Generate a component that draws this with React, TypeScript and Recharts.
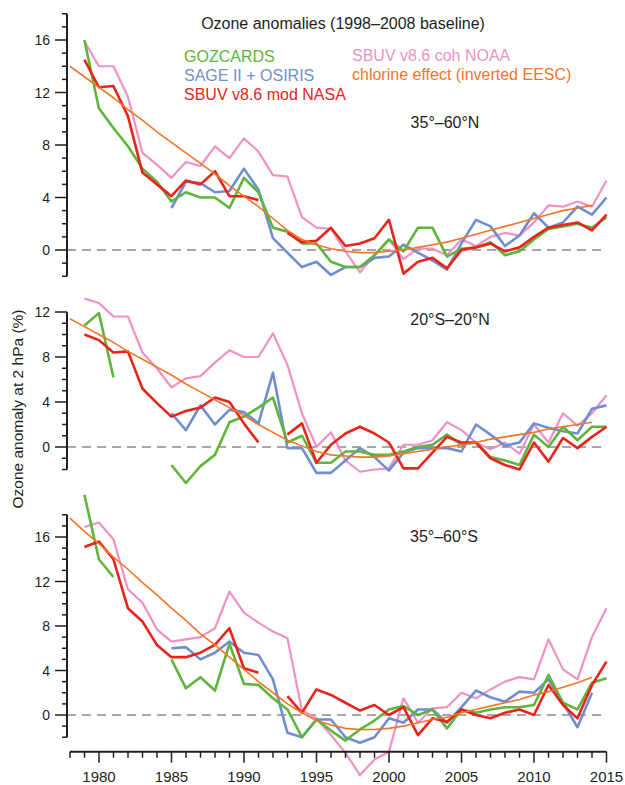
import { LineChart, Line, XAxis, YAxis, ReferenceLine } from "recharts"

const N = null

// one entry per year, 1978..2015
const years = [
  1978, 1979, 1980, 1981, 1982, 1983, 1984, 1985, 1986, 1987,
  1988, 1989, 1990, 1991, 1992, 1993, 1994, 1995, 1996, 1997,
  1998, 1999, 2000, 2001, 2002, 2003, 2004, 2005, 2006, 2007,
  2008, 2009, 2010, 2011, 2012, 2013, 2014, 2015,
]

// 35°–60°N
const gozNorth = [
  N, 16.0, 10.8, 9.3, 7.9, 6.2, 5.2, 3.7, 4.4, 4.0,
  4.0, 3.2, 5.5, 4.4, 1.7, 1.4, 0.5, 0.5, -0.9, -1.3,
  -1.3, -0.4, 0.8, -0.1, 1.7, 1.7, -0.5, 0.1, 0.2, 0.6,
  -0.4, -0.1, 0.8, 1.6, 1.8, 2.0, 1.7, 2.5,
]
const sageNorth = [
  N, N, N, N, N, N, N, 3.2, 5.2, 5.1,
  4.4, 4.5, 6.2, 4.6, 0.9, -0.2, -1.3, -0.9, -1.9, -1.3,
  -1.3, -0.6, -0.5, 0.4, -0.2, -0.8, -1.5, 0.5, 2.3, 1.8,
  0.3, 1.1, 2.8, 1.7, 2.1, 3.3, 2.7, 4.0,
]
const nasaNorth = [
  N, 14.5, 12.4, 12.5, 10.2, 5.9, 5.0, 4.1, 5.3, 5.0,
  6.0, 4.1, 4.1, 3.8, N, 1.3, 0.6, 0.7, 1.7, 0.3,
  0.5, 0.9, 2.3, -1.8, -0.9, -0.6, -1.4, 0.0, 0.2, 0.5,
  -0.1, 0.2, 1.0, 1.7, 1.9, 2.1, 1.5, 2.7,
]
const noaaNorth = [
  N, 15.9, 14.0, 14.0, 11.7, 7.4, 6.5, 5.5, 6.7, 6.4,
  7.9, 7.0, 8.5, 7.5, 5.7, 5.6, 2.5, 1.7, 1.6, -0.1,
  -1.7, -0.4, 0.8, -0.7, 0.1, 0.1, -0.4, 0.8, 0.3, 1.0,
  1.3, 1.1, 2.1, 3.4, 3.3, 3.7, 3.3, 5.3,
]
const eescNorth = [
  14.0, 13.2, 12.4, 11.6, 10.7, 9.9, 9.0, 8.2, 7.4, 6.6,
  5.8, 4.9, 4.1, 3.3, 2.4, 1.5, 0.8, 0.4, 0.1, -0.1,
  -0.2, -0.2, -0.1, 0.0, 0.2, 0.4, 0.6, 0.9, 1.2, 1.5,
  1.8, 2.1, 2.4, 2.7, 3.0, 3.2, 3.4, N,
]

// 20°S–20°N
const gozTropics = [
  N, 10.8, 11.9, 6.2, N, N, N, -1.6, -3.2, -1.7,
  -0.7, 2.2, 2.7, 3.5, 4.4, 0.4, 1.0, -1.4, -1.4, -0.4,
  -0.4, -0.7, -0.7, -0.4, 0.0, 0.2, 1.1, 0.2, 0.4, -0.9,
  -1.2, -1.6, 1.1, 0.0, 1.8, 0.6, 1.8, 1.8,
]
const sageTropics = [
  N, N, N, N, N, N, N, 3.0, 1.5, 3.7,
  2.0, 3.3, 3.1, 2.1, 6.6, -0.1, -0.1, -2.3, -2.3, -1.2,
  -0.1, -0.9, -2.1, -0.5, -0.1, -0.1, -0.1, -0.4, 2.0, 1.1,
  0.1, 0.4, 2.1, 1.7, 1.4, 1.2, 3.4, 3.7,
]
const nasaTropics = [
  N, 10.0, 9.5, 8.4, 8.5, 5.2, 3.9, 2.7, 3.2, 3.5,
  4.4, 4.0, 2.1, 0.4, N, 1.1, 2.1, -1.4, 0.2, 1.2,
  1.8, 1.2, 0.4, -1.9, -1.9, -0.5, 0.9, 0.4, 0.4, -1.0,
  -1.6, -2.0, 0.4, -1.3, 0.8, -0.1, 0.9, 1.8,
]
const noaaTropics = [
  N, 13.2, 12.8, 11.6, 11.6, 8.4, 7.0, 5.3, 6.1, 6.3,
  7.5, 8.6, 8.0, 8.0, 10.1, 7.3, 3.0, 0.0, 1.3, -1.2,
  -2.2, -2.0, -1.9, 0.2, 0.2, 0.6, 2.2, 1.5, 0.4, -0.2,
  0.4, -0.6, 2.0, 0.4, 3.0, 1.9, 3.0, 4.6,
]
const eescTropics = [
  11.4, 10.7, 10.0, 9.3, 8.5, 7.8, 7.1, 6.4, 5.6, 4.9,
  4.2, 3.5, 2.8, 2.0, 1.3, 0.6, 0.1, -0.4, -0.7, -0.8,
  -0.9, -0.9, -0.8, -0.6, -0.4, -0.2, 0.0, 0.2, 0.4, 0.7,
  0.9, 1.1, 1.3, 1.6, 1.8, 2.0, 2.2, N,
]

// 35°–60°S
const gozSouth = [
  N, 19.8, 14.0, 12.4, N, N, N, 5.0, 2.4, 3.4,
  2.2, 6.4, 2.8, 2.7, 1.5, 0.5, -2.0, -0.4, -1.4, -2.3,
  -1.3, -0.5, 0.5, 0.8, 0.0, 0.5, -1.2, 0.5, 0.2, 0.5,
  0.7, 0.7, 0.9, 3.6, 1.1, 0.5, 2.9, 3.3,
]
const sageSouth = [
  N, N, N, N, N, N, N, 6.0, 6.1, 5.0,
  5.6, 6.6, 5.6, 5.4, 3.2, -1.6, -2.0, -0.4, -0.4, -2.0,
  -2.5, -2.0, -0.3, -0.7, 0.5, 0.5, -0.7, 0.7, 2.2, 1.6,
  1.2, 2.1, 2.0, 3.2, 1.1, -1.1, 2.0, N,
]
const nasaSouth = [
  N, 15.1, 15.6, 14.0, 9.6, 8.4, 6.3, 5.2, 5.2, 5.6,
  6.3, 7.8, 4.2, 3.8, N, 1.7, 0.2, 2.3, 1.8, 1.1,
  0.4, 0.9, 0.0, 0.7, -1.8, -0.3, -0.6, 0.5, 0.0, -0.3,
  0.2, 0.5, 0.0, 2.7, 0.9, -0.3, 2.7, 4.8,
]
const noaaSouth = [
  N, 16.9, 17.3, 15.8, 11.3, 10.1, 7.7, 6.6, 6.8, 7.0,
  7.8, 11.1, 9.2, 8.3, 7.5, 6.9, 0.4, -0.3, -1.8, -3.4,
  -5.4, -4.0, -3.3, 1.5, -0.7, 0.6, 0.7, 2.0, 1.5, 2.3,
  3.0, 3.4, 3.2, 6.8, 4.1, 3.2, 7.0, 9.6,
]
const eescSouth = [
  17.7, 16.5, 15.4, 14.2, 13.1, 11.9, 10.8, 9.6, 8.5, 7.3,
  6.3, 5.2, 4.1, 3.0, 2.0, 1.0, 0.2, -0.5, -0.9, -1.2,
  -1.3, -1.3, -1.2, -1.0, -0.7, -0.4, -0.2, 0.2, 0.5, 0.8,
  1.1, 1.4, 1.8, 2.1, 2.5, 2.9, 3.4, N,
]

const ticksWide = [-2, -1, 0, 1, 2, 3, 4, 5, 6, 7, 8, 9, 10, 11, 12, 13, 14, 15, 16, 17, 18]
const ticksNarrow = [-2, -1, 0, 1, 2, 3, 4, 5, 6, 7, 8, 9, 10, 11, 12]

const FONT = '"Liberation Sans", Arial, Helvetica, sans-serif'
const INK = "#231f20"
const C = {
  noaa: "#ee91c4",
  sage: "#6f8ed2",
  goz: "#5db53b",
  nasa: "#e8241c",
  eesc: "#f37528",
}
const W = 625
const H = 785
const X_START = 1977.8

const build = (goz, sage, nasa, noaa, eesc) =>
  years.map((year, i) => ({ year, goz: goz[i], sage: sage[i], nasa: nasa[i], noaa: noaa[i], eesc: eesc[i] }))

const YTick = (props: any) => {
  const { x, y, payload } = props
  const v = payload.value
  const major = v % 4 === 0
  return (
    <g>
      <line x1={x - (major ? 12 : 5)} x2={x} y1={y} y2={y} stroke={INK} strokeWidth={1.5} />
      {major && (
        <text x={x - 17} y={y} dy="0.36em" textAnchor="end" fontSize={14} fill={INK} fontFamily={FONT}>
          {v}
        </text>
      )}
    </g>
  )
}

const XTick = (props: any) => {
  const { x, y, payload } = props
  const v = payload.value
  const major = v % 5 === 0
  return (
    <g>
      <line x1={x} x2={x} y1={y} y2={y + (major ? 11 : 6)} stroke={INK} strokeWidth={1.5} />
      {major && (
        <text x={x} y={y + 30} textAnchor="middle" fontSize={15} fill={INK} fontFamily={FONT}>
          {v}
        </text>
      )}
    </g>
  )
}

const Panel = ({ data, domain, ticks, axisTop, top, bottom }) => (
  <div style={{ position: "absolute", left: 0, top: 0 }}>
    <LineChart width={W} height={H} data={data} margin={{ top, right: 18.5, bottom, left: 0 }}>
      <XAxis dataKey="year" type="number" domain={[X_START, 2015]} hide />
      <YAxis
        type="number"
        domain={domain}
        ticks={ticks}
        interval={0}
        width={67}
        axisLine={false}
        tickLine={false}
        tickSize={0}
        tickMargin={0}
        tick={<YTick />}
      />
      <ReferenceLine y={0} stroke="#928787" strokeWidth={1.3} strokeDasharray="9 6" />
      <ReferenceLine segment={[{ x: X_START, y: -2 }, { x: X_START, y: axisTop }]} stroke={INK} strokeWidth={2} />
      <Line dataKey="noaa" stroke={C.noaa} strokeWidth={2.2} dot={false} strokeLinejoin="round" isAnimationActive={false} />
      <Line dataKey="sage" stroke={C.sage} strokeWidth={2.6} dot={false} strokeLinejoin="round" isAnimationActive={false} />
      <Line dataKey="goz" stroke={C.goz} strokeWidth={2.6} dot={false} strokeLinejoin="round" isAnimationActive={false} />
      <Line dataKey="nasa" stroke={C.nasa} strokeWidth={2.6} dot={false} strokeLinejoin="round" isAnimationActive={false} />
      <Line dataKey="eesc" stroke={C.eesc} strokeWidth={1.6} dot={false} isAnimationActive={false} />
    </LineChart>
  </div>
)

const txt = { fontFamily: FONT, fontSize: 16 }

export default function App() {
  const north = build(gozNorth, sageNorth, nasaNorth, noaaNorth, eescNorth)
  const tropics = build(gozTropics, sageTropics, nasaTropics, noaaTropics, eescTropics)
  const south = build(gozSouth, sageSouth, nasaSouth, noaaSouth, eescSouth)
  const axisData = years.map((year) => ({ year }))

  return (
    <div style={{ position: "absolute", left: 0, top: 0, width: W, height: H, background: "#fff" }}>
      <Panel data={north} domain={[-2, 18]} ticks={ticksWide} axisTop={18} top={13.75} bottom={508.75} />
      <Panel data={tropics} domain={[-4, 14]} ticks={ticksNarrow} axisTop={12} top={289.5} bottom={293} />
      <Panel data={south} domain={[-6, 20]} ticks={ticksWide} axisTop={18} top={492.5} bottom={3.25} />
      <div style={{ position: "absolute", left: 0, top: 0 }}>
        <LineChart width={W} height={H} data={axisData} margin={{ top: 700, right: 18.5, bottom: 3.3, left: 70 }}>
          <XAxis
            dataKey="year"
            type="number"
            domain={[1978, 2015]}
            ticks={years}
            interval={0}
            height={30}
            tickLine={false}
            tickSize={0}
            tickMargin={0}
            axisLine={{ stroke: INK, strokeWidth: 2 }}
            tick={<XTick />}
          />
          <YAxis hide domain={[0, 1]} />
        </LineChart>
      </div>
      <svg width={W} height={H} style={{ position: "absolute", left: 0, top: 0 }}>
        <text x={343} y={29} textAnchor="middle" fill={INK} {...txt}>Ozone anomalies (1998–2008 baseline)</text>
        <text x={184} y={62} fill={C.goz} {...txt}>GOZCARDS</text>
        <text x={184} y={81} fill={C.sage} {...txt}>SAGE II + OSIRIS</text>
        <text x={184} y={100} fill={C.nasa} {...txt}>SBUV v8.6 mod NASA</text>
        <text x={352} y={61} fill={C.noaa} {...txt}>SBUV v8.6 coh NOAA</text>
        <text x={352} y={80} fill={C.eesc} {...txt}>chlorine effect (inverted EESC)</text>
        <text x={445} y={128} textAnchor="middle" fill={INK} {...txt}>35°–60°N</text>
        <text x={450} y={325} textAnchor="middle" fill={INK} {...txt}>20°S–20°N</text>
        <text x={444} y={542} textAnchor="middle" fill={INK} {...txt}>35°–60°S</text>
        <text
          x={0}
          y={0}
          transform="translate(23 409) rotate(-90)"
          textAnchor="middle"
          fill={INK}
          fontFamily={FONT}
          fontSize={15.5}
        >
          Ozone anomaly at 2 hPa (%)
        </text>
      </svg>
    </div>
  )
}
